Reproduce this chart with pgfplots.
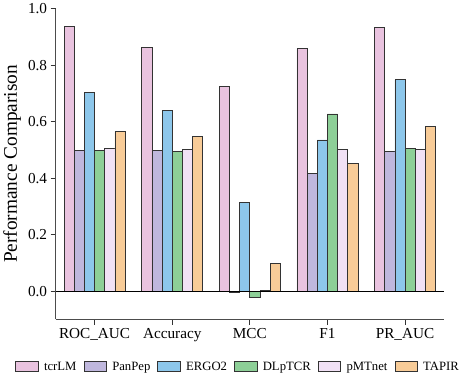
\documentclass[border=0pt]{standalone}
\usepackage{fontspec}
\setmainfont{Liberation Serif}
\usepackage{pgfplots}
\pgfplotsset{compat=1.18}

\definecolor{cTcr}{HTML}{E9C3DF}
\definecolor{cPan}{HTML}{BFB7DD}
\definecolor{cErgo}{HTML}{8DC7EB}
\definecolor{cDlp}{HTML}{8DCF97}
\definecolor{cPmt}{HTML}{F1E1F5}
\definecolor{cTap}{HTML}{F8CC98}

\begin{document}
\begin{tikzpicture}
\begin{axis}[
    scale only axis,
    width=382pt,
    height=306pt,
    ybar=0pt,
    bar width=10pt,
    xmin=-0.5, xmax=4.5,
    ymin=-0.1, ymax=1.0,
    axis x line*=bottom,
    axis y line*=left,
    axis line style={draw=black!70, line width=1pt},
    xtick={0,1,2,3,4},
    xticklabels={ROC\_AUC,Accuracy,MCC,F1,PR\_AUC},
    ytick={0,0.2,0.4,0.6,0.8,1.0},
    yticklabel style={/pgf/number format/.cd,fixed,fixed zerofill,precision=1},
    /pgf/number format/assume math mode=true,
    tick align=outside,
    major tick length=5pt,
    tick style={draw=black!80, line width=0.8pt},
    tick label style={font=\fontsize{15}{18}\selectfont},
    ylabel={Performance Comparison},
    ylabel style={font=\fontsize{19}{22}\selectfont},
    legend columns=6,
    legend style={at={(0.47,-0.125)}, anchor=north, draw=none,
        font=\fontsize{12.5}{14}\selectfont,
        /tikz/every even column/.append style={column sep=5pt},
        /tikz/every odd column/.append style={column sep=3.5pt}},
    legend image code/.code={\draw[#1, bar width=0pt, bar shift=0pt] (0pt,-4pt) rectangle (22pt,6pt);},
    every axis plot/.append style={draw=black!80, line width=0.7pt},
]
\addplot[fill=cTcr] coordinates {(0,0.938) (1,0.862) (2,0.723) (3,0.858) (4,0.934)};
\addplot[fill=cPan] coordinates {(0,0.497) (1,0.499) (2,-0.003) (3,0.417) (4,0.496)};
\addplot[fill=cErgo] coordinates {(0,0.703) (1,0.640) (2,0.314) (3,0.535) (4,0.748)};
\addplot[fill=cDlp] coordinates {(0,0.499) (1,0.493) (2,-0.022) (3,0.627) (4,0.506)};
\addplot[fill=cPmt] coordinates {(0,0.506) (1,0.502) (2,0.002) (3,0.502) (4,0.502)};
\addplot[fill=cTap] coordinates {(0,0.565) (1,0.548) (2,0.097) (3,0.453) (4,0.583)};
\legend{tcrLM,PanPep,ERGO2,DLpTCR,pMTnet,TAPIR}
\draw[black, line width=0.9pt] (axis cs:-0.5,0) -- (axis cs:4.5,0);
\end{axis}
\end{tikzpicture}
\end{document}
